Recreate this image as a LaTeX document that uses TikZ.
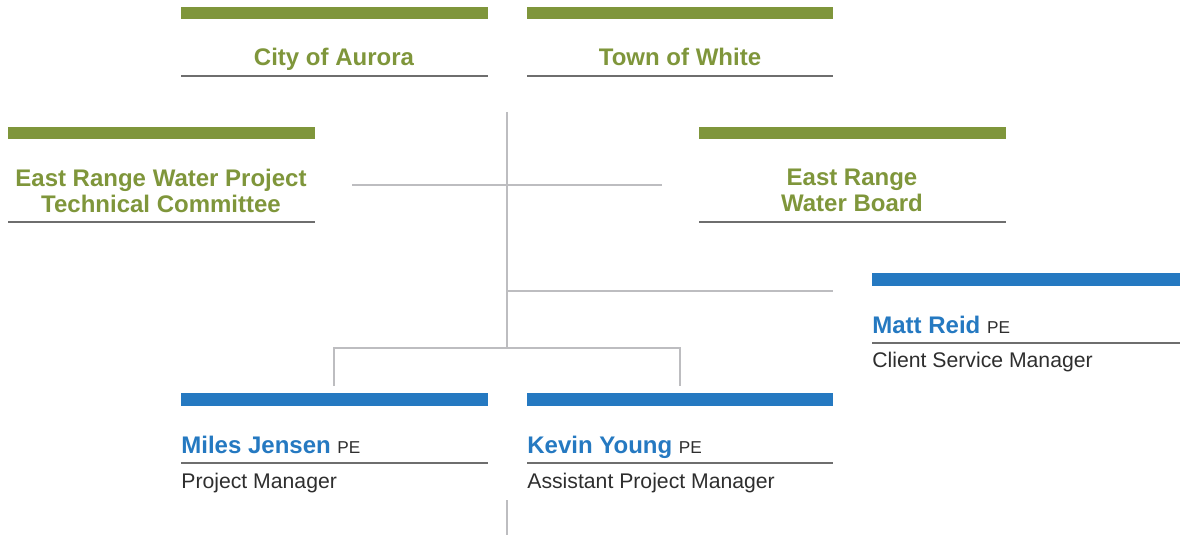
\documentclass[tikz,border=0pt]{standalone}
\usepackage{fontspec}
\setmainfont{Liberation Sans}

\definecolor{leaf}{HTML}{7F963B}
\definecolor{sky}{HTML}{2579C1}
\definecolor{wirecol}{HTML}{BDBDC0}
\definecolor{rulecol}{HTML}{6E6E6E}
\definecolor{ink}{HTML}{2E2E2E}

\tikzset{
  underline/.style={draw=rulecol, line width=1pt},
  wire/.style={draw=wirecol, line width=0.8pt},
  group/.style={text=leaf, font=\bfseries\fontsize{12}{13}\selectfont, align=center, inner sep=0pt},
  person/.style={text=sky, font=\bfseries\fontsize{12}{14}\selectfont, anchor=base west, inner sep=0pt},
  role/.style={text=ink, font=\fontsize{10.6}{12}\selectfont, anchor=base west, inner sep=0pt},
}
\newcommand{\pe}{{\normalfont\color{ink}\fontsize{8.6}{10}\selectfont PE}}

\begin{document}
\begin{tikzpicture}[x=0.5pt, y=-0.5pt]
\useasboundingbox (0,0) rectangle (1180,535);

% owners
\fill[leaf] (181,7) rectangle (488,19);
\node[group, anchor=base] (aurora) at (334,66) {City of Aurora};
\draw[underline] (181,76) -- (488,76);

\fill[leaf] (527,7) rectangle (833,19);
\node[group, anchor=base] (white) at (680,66) {Town of White};
\draw[underline] (527,76) -- (833,76);

% committee and board
\fill[leaf] (8,127) rectangle (315,139);
\node[group, anchor=north] (committee) at (161,169) {East Range Water Project\\Technical Committee};
\draw[underline] (8,222) -- (315,222);

\fill[leaf] (699,127) rectangle (1006,139);
\node[group, anchor=north] (board) at (852,169) {East Range\\Water Board};
\draw[underline] (699,222) -- (1006,222);

% people
\fill[sky] (872,273) rectangle (1180,286);
\node[person] (reid) at (872,334) {Matt Reid \pe};
\draw[underline] (872,343) -- (1180,343);
\node[role] (reidrole) at (872,367) {Client Service Manager};

\fill[sky] (181,393) rectangle (488,406);
\node[person] (jensen) at (181,453) {Miles Jensen \pe};
\draw[underline] (181,463) -- (488,463);
\node[role] (jensenrole) at (181,488) {Project Manager};

\fill[sky] (527,393) rectangle (833,406);
\node[person] (young) at (527,453) {Kevin Young \pe};
\draw[underline] (527,463) -- (833,463);
\node[role] (youngrole) at (527,488) {Assistant Project Manager};

% connectors
\coordinate (top) at (507,112);
\coordinate (mid) at (507,348);
\coordinate (tcleft) at (352,185);
\coordinate (tcright) at (662,185);
\coordinate (csm) at (833,291);
\coordinate (pm) at (334,386);
\coordinate (apm) at (680,386);
\coordinate (tail) at (507,500);
\coordinate (tailend) at (507,535);

\draw[wire] (top) -- (mid);
\draw[wire] (tcleft) -- (tcright);
\draw[wire] (csm -| top) -- (csm);
\draw[wire] (pm) |- (mid) -| (apm);
\draw[wire] (tail) -- (tailend);
\end{tikzpicture}
\end{document}
